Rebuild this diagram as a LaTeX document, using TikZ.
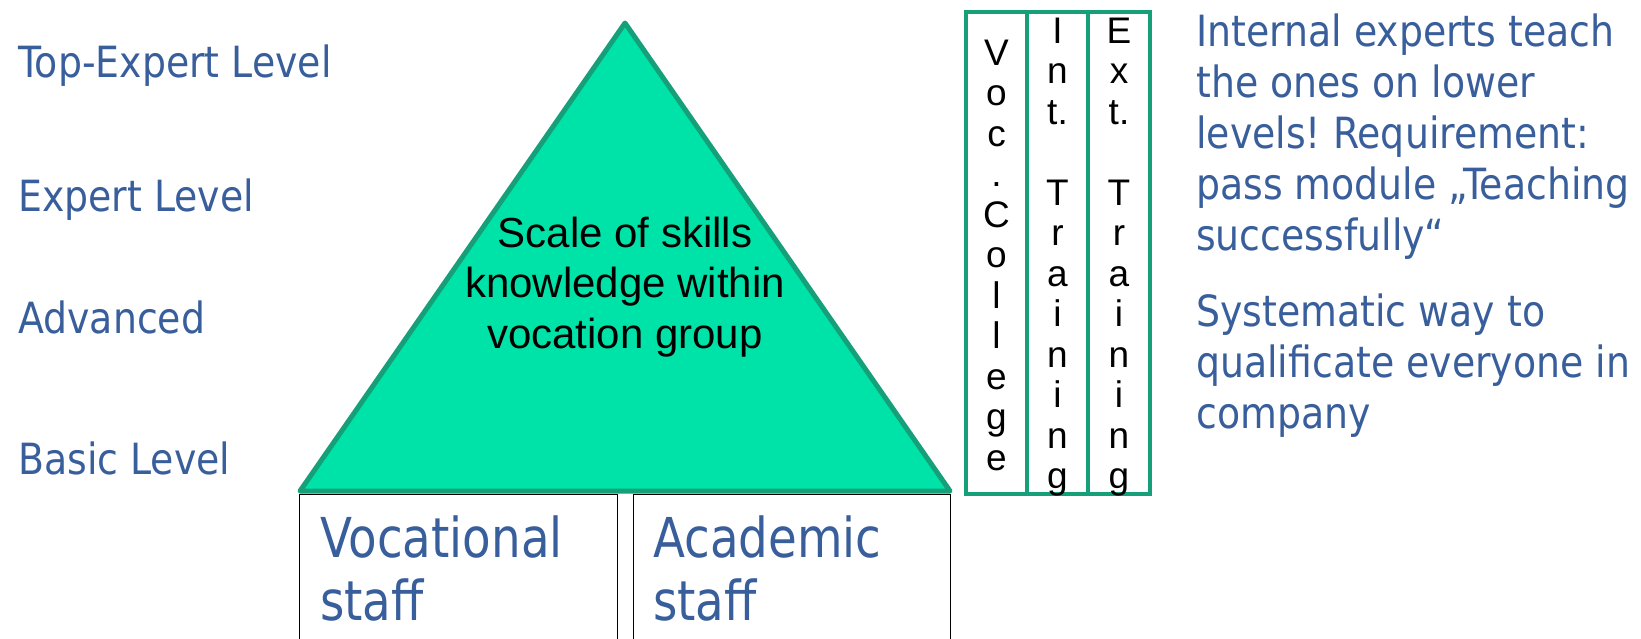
\documentclass[tikz,border=0pt]{standalone}
\usepackage{fontspec}
\setmainfont{Liberation Sans}
\newfontfamily\levelfont[FakeStretch=0.88]{DejaVu Sans}
\newfontfamily\stafffont[FakeStretch=0.85]{DejaVu Sans}
\usetikzlibrary{positioning}
\definecolor{levelblue}{RGB}{56,94,156}
\definecolor{pyrfill}{RGB}{0,227,168}
\definecolor{pyrline}{RGB}{22,160,122}
\frenchspacing

\begin{document}
\begin{tikzpicture}[x=1pt, y=-1pt,
    level/.style={anchor=base west, inner sep=0pt, text=levelblue,
        font=\levelfont\fontsize{43}{51}\selectfont},
    note/.style={level, align=left},
    staff/.style={anchor=base west, inner sep=0pt, text=levelblue, align=left,
        font=\stafffont\fontsize{55}{63}\selectfont},
    staffbox/.style={draw=black, line width=1pt, fill=white},
    column/.style={draw=pyrline, line width=4pt, inner sep=0pt, anchor=north west,
        minimum height=482},
    letters/.style={inner sep=0pt, align=center,
        font=\fontsize{37}{40.5}\selectfont}]
    \useasboundingbox (0,0) rectangle (1641,639);
    \clip (0,0) rectangle (1641,639);

    % the levels on the left
    \node[level] (toplvl) at (18,78) {Top-Expert Level};
    \node[level] (explvl) at (18,212) {Expert Level};
    \node[level] (advlvl) at (18,333) {Advanced};
    \node[level] (baslvl) at (18,474) {Basic Level};

    % the pyramid
    \coordinate (apex) at (625,23);
    \coordinate (baseL) at (300,491);
    \coordinate (baseR) at (950,491);
    \filldraw[fill=pyrfill, draw=pyrline, line width=5pt, line join=round]
        (apex) -- (baseL) -- (baseR) -- cycle;
    % (base anchor of a multi-line node sits on its last line)
    \node[anchor=base, inner sep=0pt, align=center,
        font=\fontsize{42}{50.5}\selectfont] (scale) at (625,348)
        {Scale of skills\\knowledge within\\vocation group};

    % the two groups of staff under it
    \draw[staffbox] (299,494) rectangle (617,660);
    \draw[staffbox] (633,494) rectangle (950,660);
    \node[staff] (voc) at (320,620) {Vocational\\staff};
    \node[staff] (aca) at (653,620) {Academic\\staff};

    % the three ways of training
    \node[column, minimum width=61] (vcol) at (964,10) {};
    \node[column, minimum width=61] (icol) at (1025,10) {};
    \node[column, minimum width=62] (ecol) at (1086,10) {};
    \node[letters] (vtxt) at ([yshift=-2]vcol.center) {V\\o\\c\\.\\C\\o\\l\\l\\e\\g\\e};
    \node[letters] (itxt) at ([yshift=-4]icol.center) {I\\n\\t.\\~\\T\\r\\a\\i\\n\\i\\n\\g};
    \node[letters] (etxt) at ([yshift=-4]ecol.center) {E\\x\\t.\\~\\T\\r\\a\\i\\n\\i\\n\\g};

    % the notes on the right
    \node[note] (teach) at (1196,251) {Internal experts teach\\the ones on lower\\levels! Requirement:\\pass module „Teaching\\successfully“};
    \node[note] (qual) at (1196,428) {Systematic way to\\qualificate everyone in\\company};
\end{tikzpicture}
\end{document}
